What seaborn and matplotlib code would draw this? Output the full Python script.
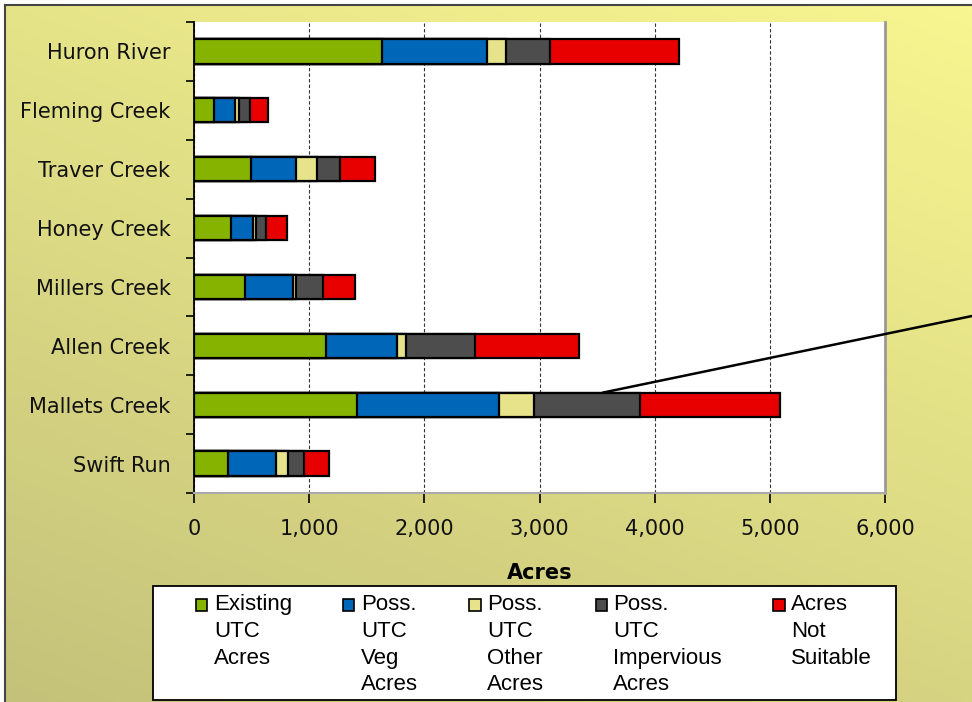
# UTC acres by sub-watershed, stacked horizontal bars
import numpy as np
import pandas as pd
import seaborn as sns
import matplotlib.pyplot as plt
from matplotlib.patches import Rectangle
from matplotlib.legend_handler import HandlerPatch
from matplotlib.colors import LinearSegmentedColormap

sites = ['Huron River', 'Fleming Creek', 'Traver Creek', 'Honey Creek',
         'Millers Creek', 'Allen Creek', 'Mallets Creek', 'Swift Run']
existing = [1629, 178, 499, 319, 442, 1145, 1413, 291]
veg = [911, 176, 390, 191, 418, 614, 1234, 422]
other = [168, 35, 179, 32, 28, 79, 309, 106]
impervious = [382, 101, 203, 84, 236, 600, 916, 138]
not_suitable = [1120, 150, 303, 182, 278, 902, 1217, 216]

seg_names = ['existing', 'veg', 'other', 'impervious', 'not_suitable']
seg_labels = ['Existing\nUTC\nAcres', 'Poss.\nUTC\nVeg\nAcres',
              'Poss.\nUTC\nOther\nAcres', 'Poss.\nUTC\nImpervious\nAcres',
              'Acres\nNot\nSuitable']
seg_colors = ['#86b300', '#0066b8', '#e6e38a', '#4d4d4d', '#e80000']
x_ticks = [0, 1000, 2000, 3000, 4000, 5000, 6000]

df = pd.DataFrame({'site': sites, 'existing': existing, 'veg': veg,
                   'other': other, 'impervious': impervious,
                   'not_suitable': not_suitable})
cum = df[seg_names].cumsum(axis=1)
cum['site'] = df['site']

W, H = 972, 702
fig = plt.figure(figsize=(W / 100, H / 100), dpi=100)

# yellow gradient background with frame
bg = fig.add_axes([5 / W, 0, 1 - 5 / W, 1 - 5 / H])
xx, yy = np.meshgrid(np.linspace(0, 1, 200), np.linspace(0, 1, 200))
grad = 0.35 * xx + 0.65 * yy
cmap = LinearSegmentedColormap.from_list('bg', ['#c4c27a', '#f8f690'])
bg.imshow(grad, cmap=cmap, origin='lower', extent=[0, 1, 0, 1],
          aspect='auto', vmin=0, vmax=1)
bg.set_xticks([])
bg.set_yticks([])
for s in ['right', 'bottom']:
    bg.spines[s].set_visible(False)
for s in ['left', 'top']:
    bg.spines[s].set_color('#444444')
    bg.spines[s].set_linewidth(1.5)

ax = fig.add_axes([194 / W, 1 - 493 / H, (885 - 194) / W, (493 - 22) / H])
ax.set_facecolor('white')

# stacked look: draw cumulative totals from longest to shortest
for name, col in reversed(list(zip(seg_names, seg_colors))):
    sns.barplot(data=cum, x=name, y='site', orient='h', color=col,
                saturation=1, width=0.41, edgecolor='black', linewidth=1.6,
                errorbar=None, ax=ax)

ax.set_xlim(0, 6000)
ax.set_xticks(x_ticks)
ax.set_xticklabels([f'{v:,}' for v in x_ticks])
ax.set_ylabel('')
ax.set_xlabel('Acres', fontsize=15, fontweight='bold', labelpad=17)
ax.set_axisbelow(True)
ax.xaxis.grid(True, linestyle=(0, (3, 2)), color='#333333', linewidth=0.8)
ax.yaxis.grid(False)

ax.set_yticks(np.arange(-0.5, len(sites), 1), minor=True)
ax.tick_params(axis='y', which='major', length=0, pad=17, labelsize=15,
               labelcolor='#111111')
ax.tick_params(axis='y', which='minor', length=6, width=1.2,
               direction='out', color='black')
ax.tick_params(axis='x', length=7, width=1.2, direction='out',
               color='black', pad=12, labelsize=15, labelcolor='#111111')

ax.spines['top'].set_visible(False)
ax.spines['left'].set_color('black')
ax.spines['left'].set_linewidth(1.3)
ax.spines['right'].set_color('#999999')
ax.spines['right'].set_linewidth(2)
ax.spines['bottom'].set_color('#aaaaaa')
ax.spines['bottom'].set_linewidth(1.5)

# callout line running off the right edge
ax.annotate('', xy=(3550, 6 - 0.205), xycoords='data',
            xytext=(1.005, 1 - 315 / H), textcoords='figure fraction',
            arrowprops=dict(arrowstyle='-', color='black', lw=1.8,
                            shrinkA=0, shrinkB=0),
            annotation_clip=False)

# legend box
fig.add_artist(Rectangle((153 / W, 2 / H), (896 - 153) / W, (700 - 586) / H,
                         transform=fig.transFigure, facecolor='white',
                         edgecolor='black', linewidth=1.3, zorder=2))

leg_size = 16
line_sp = 1.36


class TopPatch(HandlerPatch):
    def create_artists(self, legend, orig_handle, xdescent, ydescent,
                       width, height, fontsize, trans):
        shift = 1.5 * 1.056 * (line_sp / 1.2) * fontsize
        p = Rectangle((-xdescent, -ydescent + shift), width, height,
                      facecolor=orig_handle.get_facecolor(),
                      edgecolor='black', linewidth=1.2, transform=trans)
        return [p]


handles = [Rectangle((0, 0), 1, 1, facecolor=c) for c in seg_colors]
labels = [l if l.count('\n') == 3 else l + '\n ' for l in seg_labels]
leg = fig.legend(handles, labels, loc='upper left',
                 bbox_to_anchor=(196 / W, 1 - 594 / H, (872 - 196) / W, 0),
                 mode='expand', ncol=5, frameon=False, borderaxespad=0,
                 borderpad=0, handlelength=0.5, handleheight=0.5,
                 handletextpad=0.3,
                 prop={'family': 'Liberation Sans', 'size': leg_size},
                 handler_map={Rectangle: TopPatch()})
for t in leg.get_texts():
    t.set_linespacing(line_sp)
leg.set_zorder(5)

fig.savefig('out.png', dpi=100)
